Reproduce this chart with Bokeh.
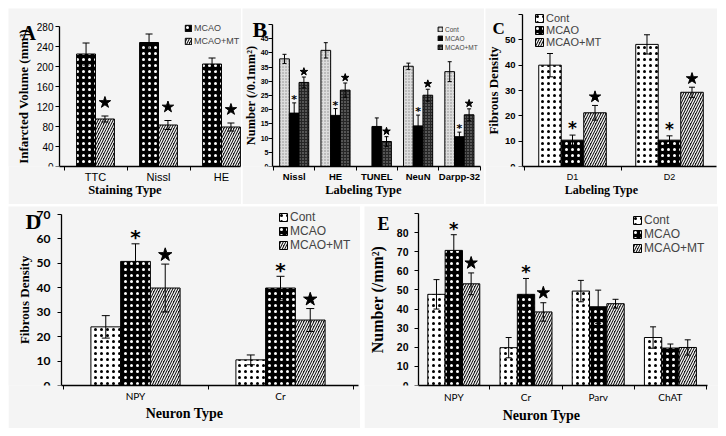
import numpy as np
from bokeh.plotting import figure
from bokeh.models import (Range1d, FixedTicker, Whisker, ColumnDataSource,
                          Legend, LegendItem, TeeHead, Spacer, Label)
from bokeh.layouts import column, row
from bokeh.embed import file_html
from bokeh.resources import INLINE
from bokeh.core.properties import value

# ---------------- data ----------------
# Panel A
a_categories = ["TTC", "Nissl", "HE"]
a_mcao = [225, 248, 205]
a_mcao_err = [22, 17, 12]
a_mcao_mt = [95, 83, 79]
a_mcao_mt_err = [6, 9, 8]
a_mt_star = [1, 1, 1]

# Panel B
b_categories = ["Nissl", "HE", "TUNEL", "NeuN", "Darpp-32"]
b_cont = [37.9, 40.9, 0.0, 35.3, 33.4]
b_cont_err = [1.6, 2.7, 0.0, 1.1, 3.5]
b_mcao = [18.8, 18.0, 14.1, 14.3, 10.5]
b_mcao_err = [3.6, 2.4, 3.0, 3.8, 1.6]
b_mcao_mt = [29.6, 26.9, 8.8, 25.1, 18.2]
b_mcao_mt_err = [1.9, 2.5, 1.7, 2.1, 2.1]
b_mcao_ast = [1, 1, 0, 1, 1]
b_mt_star = [1, 1, 1, 1, 1]

# Panel C
c_categories = ["D1", "D2"]
c_cont = [40.0, 48.2]
c_cont_err = [4.6, 3.8]
c_mcao = [10.4, 10.4]
c_mcao_err = [2.0, 1.7]
c_mcao_mt = [21.2, 29.3]
c_mcao_mt_err = [2.9, 2.0]
c_mcao_ast = [1, 1]
c_mt_star = [1, 1]

# Panel D
d_categories = ["NPY", "Cr"]
d_cont = [24.0, 10.5]
d_cont_err = [4.6, 2.0]
d_mcao = [50.8, 39.9]
d_mcao_err = [7.2, 4.8]
d_mcao_mt = [39.9, 26.8]
d_mcao_mt_err = [9.8, 4.7]
d_mcao_ast = [1, 1]
d_mt_star = [1, 1]

# Panel E
e_categories = ["NPY", "Cr", "Parv", "ChAT"]
e_cont = [47.7, 19.8, 49.4, 25.1]
e_cont_err = [7.7, 5.3, 5.6, 5.6]
e_mcao = [70.7, 47.7, 41.2, 19.6]
e_mcao_err = [8.2, 8.3, 8.7, 2.1]
e_mcao_mt = [53.2, 38.5, 42.8, 19.9]
e_mcao_mt_err = [5.7, 4.8, 2.3, 4.0]
e_mcao_ast = [1, 1, 0, 0]
e_mt_star = [1, 1, 0, 0]

# ---------------- styles ----------------
BG = "#f4f4f4"
SERIF = "Liberation Serif"
SANS = "Liberation Sans"

CONT_DOT = dict(fill_color="white", hatch_pattern=".", hatch_color="black", hatch_scale=6, hatch_weight=1)
MCAO_DOT = dict(fill_color="black", hatch_pattern=".", hatch_color="white", hatch_scale=6, hatch_weight=0.5)
MT_STRIPE = dict(fill_color="#1a1a1a", hatch_pattern="/", hatch_color="white", hatch_scale=5, hatch_weight=1.2)
B_CONT = dict(fill_color="#dddddd", hatch_pattern=".", hatch_color="#8a8a8a", hatch_scale=3, hatch_weight=1)
B_MCAO = dict(fill_color="black")
B_MT = dict(fill_color="#555555", hatch_pattern="+", hatch_color="#262626", hatch_scale=3, hatch_weight=1)


def build_panel(cats, series, g, cfg):
    """g: page-pixel geometry of the panel (canvas box, category spacing, axis extents)."""
    n_cat = len(cats)
    fb = g["T"] + g["H"] - g["Bb"]            # frame bottom (page px) = y of value 0
    cw = g["cw"]
    px2x = lambda px: (px - g["c0"]) / cw
    sy = (fb - g["py_top"]) / g["ytop"]
    py2y = lambda py: (fb - py) / sy
    lo, hi = px2x(g["ax_l"]), px2x(g["ax_r"])

    p = figure(width=g["W"], height=g["H"],
               x_range=Range1d(px2x(g["L"]), px2x(g["L"] + g["W"])),
               y_range=Range1d(0, py2y(g["T"])),
               output_backend="svg", toolbar_location=None,
               min_border_left=0, min_border_right=0, min_border_top=0,
               min_border_bottom=g["Bb"],
               background_fill_color=BG, border_fill_color=BG, outline_line_color=None)
    p.xgrid.visible = False
    p.ygrid.visible = False
    idx = np.arange(n_cat)
    bw = cfg["bw"]
    n = len(series)
    items = []
    for j, s in enumerate(series):
        off = (j - (n - 1) / 2) * bw
        x = idx + off
        vals = np.array(s["vals"], float)
        errs = np.array(s["errs"], float)
        r = p.vbar(x=x, top=vals, width=bw, line_color="black", line_width=1, **s["style"])
        items.append(LegendItem(label=s["name"], renderers=[r]))
        keep = errs > 0
        src = ColumnDataSource(dict(x=x[keep], upper=(vals + errs)[keep], lower=(vals - errs)[keep]))
        cap = cfg["cap"]
        wk = Whisker(source=src, base="x", upper="upper", lower="lower",
                     line_color="black", line_width=1, level="annotation",
                     upper_head=TeeHead(size=cap, line_color="black", line_width=1),
                     lower_head=TeeHead(size=cap, line_color="black", line_width=1))
        p.add_layout(wk)
        marks = np.array(s.get("marks", [0] * n_cat), bool)
        if marks.any():
            top = (vals + errs)[marks]
            if s["mark_kind"] == "star":
                p.scatter(x=x[marks], y=top + cfg["star_pad"], marker="star",
                          size=cfg["star_size"], color="black")
            else:
                p.text(x=x[marks], y=top + cfg["ast_pad"], text=["*"] * int(marks.sum()),
                       text_font=value("DejaVu Sans"), text_font_style="bold",
                       text_font_size=cfg["ast_size"], text_align="center",
                       text_baseline="middle", text_color="black")

    # x axis: category names at centers, small ticks at category boundaries
    xa = p.xaxis[0]
    bnds = [i + 0.5 for i in range(-1, n_cat) if lo < i + 0.5 <= hi + 0.01]
    xa.ticker = FixedTicker(ticks=[float(i) for i in idx], minor_ticks=bnds)
    xa.bounds = (lo, hi)
    xa.major_label_overrides = {float(i): c for i, c in zip(idx, cats)}
    xa.major_tick_line_color = None
    xa.major_tick_out = 0
    xa.major_tick_in = 0
    xa.minor_tick_line_color = "black"
    xa.minor_tick_out = 4
    xa.minor_tick_in = 0
    xa.axis_line_width = 1.3
    xa.axis_line_color = "black"
    xa.major_label_standoff = cfg["xstand"]
    xa.major_label_text_font = cfg.get("xtick_font", SANS)
    xa.major_label_text_font_size = cfg["xtick_size"]
    xa.major_label_text_font_style = cfg.get("xtick_style", "normal")
    xa.major_label_text_color = "black"
    xa.axis_label = cfg["xlabel"]
    xa.axis_label_text_font = SERIF
    xa.axis_label_text_font_style = "bold"
    xa.axis_label_text_font_size = cfg["xlab_size"]
    xa.axis_label_standoff = cfg["xlab_stand"]
    xa.axis_label_text_color = "black"

    # y axis drawn at the left end of the category axis
    ya = p.yaxis[0]
    ya.fixed_location = lo
    ya.ticker = FixedTicker(ticks=list(range(0, g["ytop"] + 1, cfg["ystep"])))
    ya.bounds = (0, g["ytop"])
    if cfg.get("hide_top"):
        ya.major_label_overrides = {float(g["ytop"]): ""}
    ya.axis_line_width = 1.3
    ya.axis_line_color = "black"
    ya.major_tick_out = 4
    ya.major_tick_in = 0
    ya.major_tick_line_color = "black"
    ya.minor_tick_line_color = None
    ya.major_label_standoff = cfg["ystand"]
    ya.major_label_text_font = cfg.get("ytick_font", SANS)
    ya.major_label_text_font_size = cfg["ytick_size"]
    ya.major_label_text_font_style = cfg.get("ytick_style", "normal")
    ya.major_label_text_color = "black"
    ya.axis_label = cfg["ylabel"]
    ya.axis_label_text_font = SERIF
    ya.axis_label_text_font_style = "bold"
    ya.axis_label_text_font_size = cfg["ylab_size"]
    ya.axis_label_standoff = cfg["ylab_stand"]
    ya.axis_label_text_color = "black"

    # legend (position given by its bottom-left corner in page px)
    lgx, lgy = cfg["legend_at"]
    leg_items = [it for it in items if it.label["value"] in cfg["legend_names"]]
    leg = Legend(items=leg_items, location=(lgx - g["L"], fb - lgy),
                 border_line_color=None, background_fill_alpha=0,
                 label_text_font=SANS, label_text_font_size=cfg["legend_size"],
                 glyph_height=cfg["legend_glyph"], glyph_width=cfg["legend_glyph"],
                 label_height=cfg["legend_glyph"], spacing=cfg["legend_spacing"],
                 padding=0, margin=0, label_standoff=2)
    p.add_layout(leg)

    # panel letter (left edge x, vertical centre y in page px)
    ltx, lty = cfg["letter_at"]
    p.add_layout(Label(x=px2x(ltx), y=py2y(lty), text=cfg["letter"],
                       text_font=SERIF, text_font_style="bold",
                       text_font_size=cfg["letter_size"], text_baseline="middle",
                       text_align="left", text_color="black"))
    return p


TOP = dict(T=8, H=196, Bb=38)
BOT = dict(T=206, H=222, Bb=43)

pA = build_panel(a_categories, [
    dict(name="MCAO", vals=a_mcao, errs=a_mcao_err, style=MCAO_DOT),
    dict(name="MCAO+MT", vals=a_mcao_mt, errs=a_mcao_mt_err, style=MT_STRIPE,
         marks=a_mt_star, mark_kind="star"),
], dict(TOP, L=8, W=233, c0=95, cw=63, ax_l=59, ax_r=240, ytop=280, py_top=26),
   dict(bw=0.30, ystep=40, hide_top=False,
        xlabel="Staining Type", ylabel="Infarcted Volume (mm³)",
        xlab_size="12.5px", ylab_size="13px", xtick_size="11px", ytick_size="10px",
        xstand=0, xlab_stand=-3, ystand=2, ylab_stand=3,
        cap=7, star_pad=27, star_size=12, ast_pad=0, ast_size="10px",
        legend_names=["MCAO", "MCAO+MT"], legend_at=(184, 45.5), legend_size="9px",
        legend_glyph=8, legend_spacing=3,
        letter="A", letter_at=(21, 32), letter_size="20px"))

pB = build_panel(b_categories, [
    dict(name="Cont", vals=b_cont, errs=b_cont_err, style=B_CONT),
    dict(name="MCAO", vals=b_mcao, errs=b_mcao_err, style=B_MCAO,
         marks=b_mcao_ast, mark_kind="ast"),
    dict(name="MCAO+MT", vals=b_mcao_mt, errs=b_mcao_mt_err, style=B_MT,
         marks=b_mt_star, mark_kind="star"),
], dict(TOP, L=242, W=242, c0=293.7, cw=41.3, ax_l=272, ax_r=480, ytop=50, py_top=24),
   dict(bw=0.235, ystep=5, hide_top=True,
        xlabel="Labeling Type", ylabel="Number (/0.1mm²)",
        xlab_size="12.5px", ylab_size="12.5px", xtick_size="9.5px", xtick_style="bold",
        ytick_size="7px", ytick_style="bold", xstand=0, xlab_stand=-2,
        ystand=0, ylab_stand=0,
        cap=4, star_pad=1.9, star_size=8, ast_pad=1.2, ast_size="11px",
        legend_names=["Cont", "MCAO", "MCAO+MT"], legend_at=(437, 50.5), legend_size="6.5px",
        legend_glyph=6, legend_spacing=2,
        letter="B", letter_at=(252, 29), letter_size="22px"))

pC = build_panel(c_categories, [
    dict(name="Cont", vals=c_cont, errs=c_cont_err, style=CONT_DOT),
    dict(name="MCAO", vals=c_mcao, errs=c_mcao_err, style=MCAO_DOT,
         marks=c_mcao_ast, mark_kind="ast"),
    dict(name="MCAO+MT", vals=c_mcao_mt, errs=c_mcao_mt_err, style=MT_STRIPE,
         marks=c_mt_star, mark_kind="star"),
], dict(TOP, L=486, W=232, c0=573, cw=97, ax_l=523, ax_r=717, ytop=60, py_top=14),
   dict(bw=0.232, ystep=10, hide_top=True,
        xlabel="Labeling Type", ylabel="Fibrous Density",
        xlab_size="12px", ylab_size="13px", xtick_size="9px", ytick_size="9.5px",
        ytick_style="bold", xstand=1, xlab_stand=-2, ystand=3, ylab_stand=1,
        cap=6, star_pad=3.4, star_size=12, ast_pad=2.8, ast_size="17px",
        legend_names=["Cont", "MCAO", "MCAO+MT"], legend_at=(535, 48.4), legend_size="11px",
        legend_glyph=10, legend_spacing=-1,
        letter="C", letter_at=(493, 27.5), letter_size="17px"))

pD = build_panel(d_categories, [
    dict(name="Cont", vals=d_cont, errs=d_cont_err, style=CONT_DOT),
    dict(name="MCAO", vals=d_mcao, errs=d_mcao_err, style=MCAO_DOT,
         marks=d_mcao_ast, mark_kind="ast"),
    dict(name="MCAO+MT", vals=d_mcao_mt, errs=d_mcao_mt_err, style=MT_STRIPE,
         marks=d_mt_star, mark_kind="star"),
], dict(BOT, L=8, W=352, c0=135, cw=145, ax_l=61, ax_r=358, ytop=70, py_top=214),
   dict(bw=0.205, ystep=10, hide_top=False,
        xlabel="Neuron Type", ylabel="Fibrous Density",
        xlab_size="14px", ylab_size="13px", xtick_size="10px", xtick_font="Lato",
        ytick_size="12px", ytick_font="Lato", ytick_style="bold",
        xstand=0, xlab_stand=1, ystand=7, ylab_stand=2,
        cap=8, star_pad=3.8, star_size=14, ast_pad=2.6, ast_size="20px",
        legend_names=["Cont", "MCAO", "MCAO+MT"], legend_at=(278, 252.3), legend_size="12px",
        legend_glyph=10, legend_spacing=-3,
        letter="D", letter_at=(25, 221), letter_size="22px"))

pE = build_panel(e_categories, [
    dict(name="Cont", vals=e_cont, errs=e_cont_err, style=CONT_DOT),
    dict(name="MCAO", vals=e_mcao, errs=e_mcao_err, style=MCAO_DOT,
         marks=e_mcao_ast, mark_kind="ast"),
    dict(name="MCAO+MT", vals=e_mcao_mt, errs=e_mcao_mt_err, style=MT_STRIPE,
         marks=e_mt_star, mark_kind="star"),
], dict(BOT, L=364, W=354, c0=453.3, cw=72.2, ax_l=418, ax_r=707, ytop=90, py_top=213),
   dict(bw=0.24, ystep=10, hide_top=True,
        xlabel="Neuron Type", ylabel="Number (/mm²)",
        xlab_size="14px", ylab_size="16px", xtick_size="10px", xtick_font="Lato",
        ytick_size="10.5px", ytick_style="bold", xstand=1, xlab_stand=2,
        ystand=6, ylab_stand=8,
        cap=6, star_pad=5.2, star_size=13, ast_pad=3.5, ast_size="18px",
        legend_names=["Cont", "MCAO", "MCAO+MT"], legend_at=(632, 255), legend_size="12px",
        legend_glyph=10, legend_spacing=-1,
        letter="E", letter_at=(377, 223.5), letter_size="18px"))

grid = column(row(pA, pB, pC, spacing=1), row(pD, pE, spacing=4), spacing=2)
layout = column(Spacer(height=8), row(Spacer(width=8), grid))

open("out.html", "w").write(file_html(layout, INLINE))
